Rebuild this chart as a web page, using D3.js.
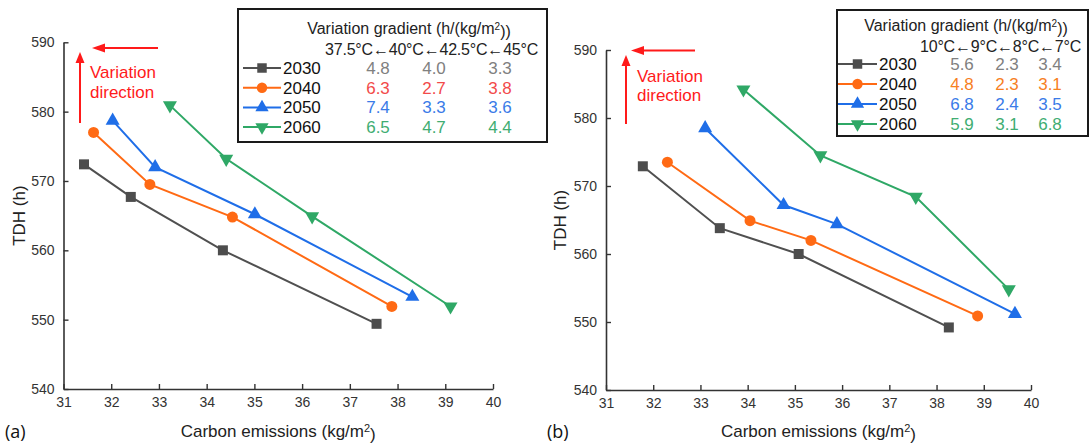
<!DOCTYPE html>
<html><head><meta charset="utf-8">
<script src="https://cdn.jsdelivr.net/npm/d3@7/dist/d3.min.js"></script>
<style>
body{margin:0;background:#fff}
svg{display:block}
text{font-family:"Liberation Sans",Arial,sans-serif}
</style>
</head><body>
<svg id="chart" width="1090" height="444"></svg>
<script>
// ---------------- data ----------------
const years = ["2030", "2040", "2050", "2060"];
const xTicks = [31, 32, 33, 34, 35, 36, 37, 38, 39, 40];
const yTicks = [540, 550, 560, 570, 580, 590];

// panel (a)
const a2030x = [31.43, 32.41, 34.34, 37.56];
const a2030y = [572.4, 567.7, 560.0, 549.4];
const a2040x = [31.63, 32.81, 34.54, 37.88];
const a2040y = [577.0, 569.5, 564.8, 551.9];
const a2050x = [32.03, 32.92, 35.01, 38.31];
const a2050y = [578.7, 572.0, 565.2, 553.3];
const a2060x = [33.23, 34.41, 36.21, 39.11];
const a2060y = [580.9, 573.2, 564.9, 551.9];
const aTemps = ["37.5°C", "40°C", "42.5°C", "45°C"];
const aGrad2030 = ["4.8", "4.0", "3.3"];
const aGrad2040 = ["6.3", "2.7", "3.8"];
const aGrad2050 = ["7.4", "3.3", "3.6"];
const aGrad2060 = ["6.5", "4.7", "4.4"];

// panel (b)
const b2030x = [31.78, 33.41, 35.08, 38.26];
const b2030y = [572.9, 563.8, 560.0, 549.2];
const b2040x = [32.30, 34.05, 35.34, 38.87];
const b2040y = [573.5, 564.9, 562.0, 550.9];
const b2050x = [33.10, 34.76, 35.89, 39.66];
const b2050y = [578.5, 567.2, 564.4, 551.2];
const b2060x = [33.91, 35.54, 37.56, 39.53];
const b2060y = [584.2, 574.5, 568.4, 554.8];
const bTemps = ["10°C", "9°C", "8°C", "7°C"];
const bGrad2030 = ["5.6", "2.3", "3.4"];
const bGrad2040 = ["4.8", "2.3", "3.1"];
const bGrad2050 = ["6.8", "2.4", "3.5"];
const bGrad2060 = ["5.9", "3.1", "6.8"];

// ---------------- styles ----------------
const lineColors = ["#505050", "#ff6a14", "#1f6ee8", "#2fa866"];
const markerColors = ["#4d4d4d", "#ff6a14", "#1f6ee8", "#2fa866"];
const symbols = [d3.symbolSquare, d3.symbolCircle, d3.symbolTriangle, d3.symbolTriangle];
const symSizes = [100, 95, 85, 85];
const symRot = [0, 0, 0, 180];
const RED = "#ff1a1a";

const svg = d3.select("#chart");

function zip(xs, ys) { return xs.map((x, i) => ({x: x, y: ys[i]})); }

function drawPanel(cfg) {
  const g = svg.append("g");
  const x = d3.scaleLinear().domain([31, 40]).range([cfg.x0, cfg.x1]);
  const y = d3.scaleLinear().domain([540, 590]).range([cfg.y0, cfg.y1]);

  // axes
  const ax = g.append("g").attr("transform", `translate(0,${cfg.y0})`)
    .call(d3.axisBottom(x).tickValues(xTicks).tickFormat(d3.format("d"))
      .tickSize(-5).tickSizeOuter(0).tickPadding(8));
  const ay = g.append("g").attr("transform", `translate(${cfg.x0},0)`)
    .call(d3.axisLeft(y).tickValues(yTicks).tickFormat(d3.format("d"))
      .tickSize(-5).tickSizeOuter(0).tickPadding(9));
  [ax, ay].forEach(a => {
    a.select(".domain").attr("stroke", "#333").attr("stroke-width", 1.6);
    a.selectAll(".tick line").attr("stroke", "#333").attr("stroke-width", 1.4);
    a.selectAll(".tick text").attr("fill", "#333").style("font-size", "14px")
      .style("font-family", "'Liberation Sans',Arial,sans-serif");
  });

  // series
  cfg.series.forEach((s, i) => {
    const pts = zip(s.xs, s.ys);
    g.append("path").datum(pts)
      .attr("fill", "none").attr("stroke", lineColors[i]).attr("stroke-width", 2)
      .attr("d", d3.line().x(d => x(d.x)).y(d => y(d.y)));
    g.selectAll(null).data(pts).enter().append("path")
      .attr("transform", d => `translate(${x(d.x)},${y(d.y)}) rotate(${symRot[i]})`)
      .attr("d", d3.symbol().type(symbols[i]).size(symSizes[i]))
      .attr("fill", markerColors[i]);
  });

  // variation direction arrows
  const av = cfg.arrowV, ah = cfg.arrowH;
  g.append("line").attr("x1", av.x).attr("x2", av.x).attr("y1", av.yb).attr("y2", av.yt + 9)
    .attr("stroke", RED).attr("stroke-width", 2);
  g.append("path").attr("fill", RED)
    .attr("d", `M${av.x},${av.yt} L${av.x - 4.5},${av.yt + 11} L${av.x + 4.5},${av.yt + 11} Z`);
  g.append("line").attr("y1", ah.y).attr("y2", ah.y).attr("x1", ah.xr).attr("x2", ah.xl + 9)
    .attr("stroke", RED).attr("stroke-width", 2);
  g.append("path").attr("fill", RED)
    .attr("d", `M${ah.xl},${ah.y} L${ah.xl + 13},${ah.y - 4.5} L${ah.xl + 13},${ah.y + 4.5} Z`);
  g.append("text").attr("x", cfg.dir.x).attr("y", cfg.dir.y1).attr("fill", RED)
    .style("font-size", "17px").text("Variation");
  g.append("text").attr("x", cfg.dir.x).attr("y", cfg.dir.y2).attr("fill", RED)
    .style("font-size", "17px").text("direction");

  // axis titles
  const xt = g.append("text").attr("x", (cfg.x0 + cfg.x1) / 2).attr("y", cfg.xTitleY)
    .attr("text-anchor", "middle").attr("fill", "#222").style("font-size", "17px");
  xt.append("tspan").text("Carbon emissions (kg/m");
  xt.append("tspan").attr("dy", "-0.45em").style("font-size", "11px").text("2");
  xt.append("tspan").attr("dy", "0.45em").text(")");
  g.append("text").attr("transform", `translate(${cfg.yTitleX},${(cfg.y0 + cfg.y1) / 2}) rotate(-90)`)
    .attr("text-anchor", "middle").attr("fill", "#222").style("font-size", "17px").text("TDH (h)");

  // panel letter
  g.append("text").attr("x", cfg.letter.x).attr("y", cfg.letter.y).attr("fill", "#111")
    .style("font-size", "18px").style("font-family", "'Open Sans','Noto Sans',sans-serif")
    .text(cfg.letter.t);

  // legend box
  const L = cfg.legend;
  const lg = g.append("g");
  lg.append("rect").attr("x", L.x).attr("y", L.y).attr("width", L.w).attr("height", L.h)
    .attr("fill", "#fff").attr("stroke", "#1a1a1a").attr("stroke-width", 2);
  const tt = lg.append("text").attr("x", L.titleX).attr("y", L.titleY).attr("text-anchor", "middle")
    .attr("fill", "#222").style("font-size", "16px");
  tt.append("tspan").text("Variation gradient (h/(kg/m");
  tt.append("tspan").attr("dy", "-0.45em").style("font-size", "10px").text("2");
  tt.append("tspan").attr("dy", "0.45em").text("))");
  lg.append("text").attr("x", L.headX).attr("y", L.headY).attr("fill", "#222")
    .style("font-size", "16px").style("letter-spacing", "-0.2px").text(cfg.temps.join("\u2190"));

  years.forEach((yr, i) => {
    const ry = L.rowY + i * L.rowDy;
    lg.append("line").attr("x1", L.lx1).attr("x2", L.lx2).attr("y1", ry - 6).attr("y2", ry - 6)
      .attr("stroke", lineColors[i]).attr("stroke-width", 2);
    lg.append("path")
      .attr("transform", `translate(${(L.lx1 + L.lx2) / 2},${ry - 6}) rotate(${symRot[i]})`)
      .attr("d", d3.symbol().type(symbols[i]).size(symSizes[i] * 0.9))
      .attr("fill", markerColors[i]);
    lg.append("text").attr("x", L.yearX).attr("y", ry).attr("fill", "#111")
      .style("font-size", "17px").text(yr);
    cfg.grads[i].forEach((v, j) => {
      lg.append("text").attr("x", L.cols[j]).attr("y", ry).attr("text-anchor", "middle")
        .attr("fill", cfg.textColors[i]).style("font-size", "17px").text(v);
    });
  });
}

drawPanel({
  x0: 63.5, x1: 493, y0: 389, y1: 42.3,
  series: [
    {xs: a2030x, ys: a2030y}, {xs: a2040x, ys: a2040y},
    {xs: a2050x, ys: a2050y}, {xs: a2060x, ys: a2060y}
  ],
  arrowV: {x: 80, yb: 123, yt: 52},
  arrowH: {y: 48, xr: 158, xl: 92},
  dir: {x: 90, y1: 78, y2: 98},
  xTitleY: 437, yTitleX: 25,
  letter: {x: 5, y: 438, t: "(a)"},
  temps: aTemps,
  grads: [aGrad2030, aGrad2040, aGrad2050, aGrad2060],
  textColors: ["#808080", "#f24a4a", "#3a7be8", "#40ad72"],
  legend: {x: 238, y: 9, w: 309, h: 133, titleX: 409, titleY: 34, headX: 325, headY: 55,
           rowY: 74, rowDy: 19.7, lx1: 243, lx2: 281, yearX: 283, cols: [378, 434, 500]}
});

drawPanel({
  x0: 606, x1: 1031, y0: 390, y1: 50,
  series: [
    {xs: b2030x, ys: b2030y}, {xs: b2040x, ys: b2040y},
    {xs: b2050x, ys: b2050y}, {xs: b2060x, ys: b2060y}
  ],
  arrowV: {x: 626, yb: 124, yt: 55},
  arrowH: {y: 50.5, xr: 695, xl: 631},
  dir: {x: 637, y1: 82, y2: 101},
  xTitleY: 437, yTitleX: 566,
  letter: {x: 547, y: 438, t: "(b)"},
  temps: bTemps,
  grads: [bGrad2030, bGrad2040, bGrad2050, bGrad2060],
  textColors: ["#808080", "#f7801f", "#3a7be8", "#40ad72"],
  legend: {x: 837, y: 10, w: 251, h: 126, titleX: 966, titleY: 31, headX: 920, headY: 52,
           rowY: 70, rowDy: 20, lx1: 838, lx2: 877, yearX: 879, cols: [962, 1007, 1050]}
});
</script>
</body></html>
